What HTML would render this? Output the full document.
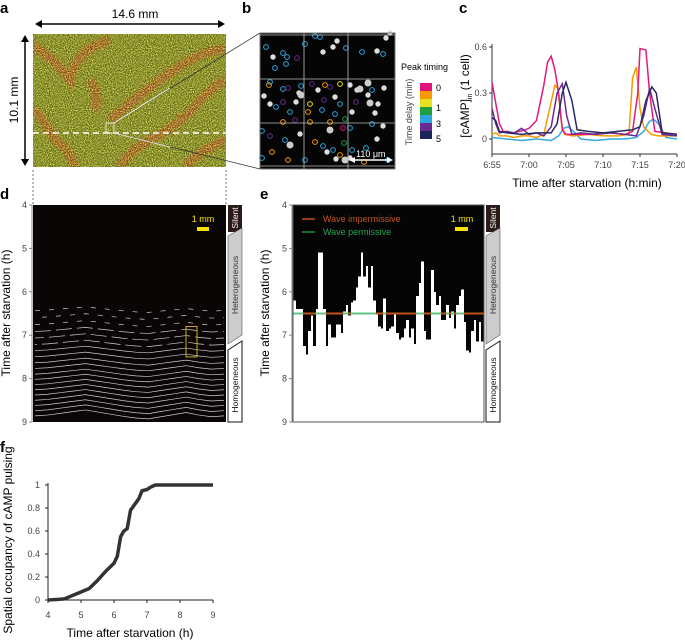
<!DOCTYPE html>
<html><head><meta charset="utf-8">
<style>
body{margin:0;background:#fff;}
svg{display:block;font-family:"Liberation Sans",Arial,sans-serif;}
.pl{font-weight:bold;font-size:15px;}
.tk{font-size:9px;fill:#444;}
.al{font-size:12px;fill:#222;}
</style></head>
<body>
<svg id="fig" width="685" height="642" viewBox="0 0 685 642">
<defs>
<filter id="noise" x="0" y="0" width="100%" height="100%">
<feTurbulence type="fractalNoise" baseFrequency="0.95" numOctaves="2" seed="3"/>
<feColorMatrix type="matrix" values="0 0 0 0 0.9  0 0 0 0 0.85  0 0 0 0 0.15  0 0 0 2.6 -1.0"/>
</filter>
<filter id="blur"><feGaussianBlur stdDeviation="1.5"/></filter>
<clipPath id="clipA"><rect x="33" y="34" width="193" height="133"/></clipPath>
</defs>

<!-- Panel a -->
<text class="pl" x="0" y="13">a</text>
<g>
<line x1="38" y1="24" x2="222" y2="24" stroke="#000" stroke-width="1.5"/>
<polygon points="35,24 42,20 42,28" fill="#000"/><polygon points="225,24 218,20 218,28" fill="#000"/>
<text x="135" y="18" font-size="12" text-anchor="middle">14.6 mm</text>
</g>
<g>
<line x1="25" y1="38" x2="25" y2="163" stroke="#000" stroke-width="1.5"/>
<polygon points="25,35 21,42 29,42" fill="#000"/><polygon points="25,166 21,159 29,159" fill="#000"/>
<text transform="translate(18,100) rotate(-90)" font-size="12" text-anchor="middle">10.1 mm</text>
</g>
<g clip-path="url(#clipA)">
<rect x="33" y="34" width="193" height="133" fill="#5f6a14"/>
<g filter="url(#blur)" stroke="#8c3a12" stroke-width="9" fill="none" opacity="0.85">
<path d="M33,45 Q55,60 70,80 Q75,50 110,40"/>
<path d="M33,110 Q45,120 55,140 Q70,150 75,167"/>
<path d="M110,120 Q140,95 160,80 Q180,65 200,55 Q215,50 226,48"/>
<path d="M120,167 Q130,150 150,140 Q180,125 200,100 Q215,85 226,80"/>
<path d="M95,110 Q100,95 90,80"/>
<path d="M185,167 Q200,150 226,140"/>
</g>
<rect x="33" y="34" width="193" height="133" filter="url(#noise)"/>
<line x1="33" y1="133" x2="226" y2="133" stroke="#fff" stroke-width="1.5" stroke-dasharray="6,4"/>
<rect x="106" y="123" width="8" height="10" fill="none" stroke="#fff" stroke-width="0.8"/>
</g>
<line x1="114" y1="123" x2="260" y2="33" stroke="#333" stroke-width="0.8"/>
<line x1="114" y1="133" x2="260" y2="169" stroke="#333" stroke-width="0.8"/>
<line x1="114" y1="123" x2="170" y2="88" stroke="#fff" stroke-width="0.8"/>
<line x1="114" y1="133" x2="170" y2="147" stroke="#fff" stroke-width="0.8"/>
<line x1="33" y1="170" x2="33" y2="205" stroke="#333" stroke-width="0.7" stroke-dasharray="2,2"/>
<line x1="226" y1="170" x2="226" y2="205" stroke="#333" stroke-width="0.7" stroke-dasharray="2,2"/>

<!-- Panel b -->
<text class="pl" x="242" y="13">b</text>
<g id="panelB">
<rect x="260" y="33" width="135" height="136" fill="#050505"/>
</g>
<text x="401" y="70" font-size="9">Peak timing</text>
<text transform="translate(412,112) rotate(-90)" font-size="9" fill="#444" text-anchor="middle">Time delay (min)</text>
<g id="cbar"></g>

<!-- Panel c -->
<text class="pl" x="459" y="13">c</text>
<g id="panelC"></g>
<text transform="translate(469,96) rotate(-90)" font-size="12" text-anchor="middle">[cAMP]<tspan font-size="7" dy="3">in</tspan><tspan dy="-3"> (1 cell)</tspan></text>
<text x="587" y="187" font-size="12" text-anchor="middle">Time after starvation (h:min)</text>

<!-- Panel d -->
<text class="pl" x="0" y="199">d</text>
<g id="panelD">
<rect x="33" y="205" width="193" height="217" fill="#0a0606"/>
</g>
<text transform="translate(10,313) rotate(-90)" font-size="12" text-anchor="middle">Time after starvation (h)</text>

<!-- Panel e -->
<text class="pl" x="260" y="199">e</text>
<g id="panelE"></g>
<text transform="translate(269,313) rotate(-90)" font-size="12" text-anchor="middle">Time after starvation (h)</text>

<!-- Panel f -->
<text class="pl" x="0" y="452">f</text>
<g id="panelF"></g>
<text transform="translate(12,540) rotate(-90)" font-size="12" text-anchor="middle">Spatial occupancy of cAMP pulsing</text>
<text x="130" y="637" font-size="12" text-anchor="middle">Time after starvation (h)</text>
</svg>

<script>
// ---- Panel c data (minutes after 6:55) ----
const cTicks = ["6:55","7:00","7:05","7:10","7:15","7:20"];
const cYTicks = [0,0.3,0.6];
const tMagenta = [0,1,1.5,3,4.5,5,6,7,7.5,8,8.5,9,9.5,10,13,16,18,19,19.7,20,20.8,21.3,22,25];
const vMagenta = [0.37,0.1,0.05,0.04,0.06,0.07,0.12,0.35,0.5,0.54,0.45,0.3,0.06,0.03,0.03,0.04,0.03,0.05,0.3,0.59,0.58,0.3,0.05,0.03];
const tOrange = [0,0.5,1,2,3,4,5,6,7,7.8,8.5,8.9,9.4,9.8,11,13,15,17,18.5,19,19.5,20,20.5,21.5,22.5,25];
const vOrange = [0.03,0.04,0.02,0.02,0.01,0.02,0.02,0.01,0.03,0.2,0.35,0.33,0.1,0.03,0.02,0.03,0.02,0.02,0.03,0.4,0.47,0.2,0.08,0.03,0.02,0.02];
const tPurple = [0,0.5,1,2,3,4,5,6,7,8,8.8,9.5,10.1,10.8,12,14,16,18,19.5,20.5,21.3,22,23,25];
const vPurple = [0.2,0.1,0.04,0.05,0.04,0.07,0.03,0.04,0.02,0.08,0.3,0.36,0.15,0.03,0.04,0.03,0.04,0.03,0.02,0.15,0.33,0.2,0.03,0.02];
const tNavy = [0,0.5,1,2,4,6,7,8,8.8,9.5,10,10.8,11.5,13,15,17,19,20,20.8,21.6,22.2,23,25];
const vNavy = [0.14,0.12,0.05,0.04,0.03,0.04,0.04,0.04,0.1,0.3,0.37,0.25,0.06,0.05,0.04,0.05,0.06,0.08,0.25,0.34,0.3,0.04,0.03];
const tBlue = [0,2,4,6,8,9,9.7,10.3,11,12,14,16,18,19.5,20.5,21.2,21.8,22.5,23.5,25];
const vBlue = [0.01,0.0,-0.01,0.0,-0.01,0.02,0.07,0.08,0.05,0.0,-0.01,0.0,0.0,0.01,0.05,0.11,0.13,0.1,0.01,0.0];

// ---- Panel d data ----
const dYTicks = [4,5,6,7,8,9];
const waveTimes = [6.42,6.58,6.74,6.9,7.05,7.2,7.34,7.48,7.62,7.75,7.88,8.0,8.12,8.24,8.36,8.48,8.6,8.72,8.84];
const waveProfile = [0.02,0.0,-0.04,-0.08,-0.12,-0.07,-0.02,0.03,0.07,0.09,0.04,-0.01,-0.06,0.0,0.04,0.02]; // hours offset across x

// ---- Panel e data ----
const eBoundary = [6.2,6.4,6.4,6.4,7.25,7.45,6.9,6.55,7.25,6.4,5.1,5.1,6.4,7.25,6.75,7.05,7.05,6.75,6.75,6.95,6.45,6.3,6.55,6.25,6.2,5.9,5.65,5.1,5.65,5.4,5.9,5.4,6.2,6.5,6.8,6.85,6.15,6.9,6.85,6.8,6.5,6.95,7.1,7.05,6.85,6.65,7.05,6.85,7.2,6.1,5.8,5.3,6.9,7.1,7.1,5.5,6.0,6.3,6.1,6.65,6.65,6.3,6.6,6.45,6.85,6.3,6.1,5.95,6.7,7.35,7.4,6.9,6.65,7.15,6.7,7.15];
const eThreshold = 6.5;

// ---- Panel f data ----
const fX = [4,4.3,4.5,4.75,5,5.25,5.5,5.75,6,6.1,6.2,6.3,6.4,6.5,6.6,6.75,6.85,7,7.1,7.25,8,9];
const fY = [0,0.005,0.01,0.04,0.07,0.1,0.17,0.25,0.32,0.38,0.55,0.6,0.62,0.78,0.82,0.88,0.95,0.96,0.98,1,1,1];
const fXTicks = [4,5,6,7,8,9];
const fYTicks = [0,0.2,0.4,0.6,0.8,1];

const NS="http://www.w3.org/2000/svg";
function mk(tag,attrs,parent){const e=document.createElementNS(NS,tag);for(const k in attrs)e.setAttribute(k,attrs[k]);parent.appendChild(e);return e;}

// Panel b cells
(function(){
  const g=document.getElementById('panelB');
  const cols=["#e0157a","#f59a00","#e8e020","#1fa040","#2ba6e0","#6a2b90","#1a2458","#ddd"];
  const cells=[[266,47,4],[275,68,4],[283,53,4],[287,57,4],[297,58,5],[305,44,4],[315,36,4],[320,37,4],[323,52,7],[333,47,7],[337,41,7],[346,48,4],[362,52,4],[377,51,7],[383,54,4],[386,38,7],[390,33,7],[273,57,7],[286,64,4],[269,85,1],[270,82,4],[283,89,4],[288,88,5],[299,93,7],[301,86,4],[312,84,5],[318,90,7],[325,85,1],[330,87,5],[340,84,2],[350,85,7],[368,95,7],[372,90,4],[378,104,7],[356,102,5],[340,104,4],[335,97,7],[324,100,5],[310,104,2],[296,102,7],[283,102,5],[270,104,7],[264,96,7],[276,107,4],[290,112,4],[308,112,1],[322,110,4],[335,114,4],[352,112,7],[375,113,7],[283,122,1],[295,120,5],[310,122,1],[330,122,1],[345,119,3],[343,128,0],[350,128,4],[372,124,4],[383,126,7],[262,131,4],[270,136,5],[285,140,4],[300,134,7],[315,142,1],[323,146,4],[344,143,3],[333,150,4],[352,150,4],[366,148,4],[377,139,7],[272,152,1],[262,158,4],[288,160,1],[305,160,4],[327,152,7],[340,155,1],[350,158,7],[364,162,1],[388,160,4],[357,90,7],[336,159,7],[384,88,7]];
  cells.forEach(c=>{
    const col=cols[c[2]];
    const e=mk('circle',{cx:c[0],cy:c[1],r:c[2]==7?2.2:2.4,fill:c[2]==7?col:'none',stroke:col,'stroke-width':1},g);
    
    
  });
  [[301,95],[360,89],[368,83],[370,103],[290,145],[330,130],[345,160]].forEach(p=>{mk('circle',{cx:p[0],cy:p[1],r:3.5,fill:'#ccc'},g);});
  [304,348].forEach(x=>mk('line',{x1:x,y1:33,x2:x,y2:169,stroke:'#bbb','stroke-width':0.8},g));
  [35,79,123,166].forEach(y=>mk('line',{x1:260,y1:y,x2:395,y2:y,stroke:'#bbb','stroke-width':0.8},g));
  mk('rect',{x:260,y:33,width:135,height:136,fill:'none',stroke:'#777','stroke-width':1},g);
  mk('line',{x1:351,y1:160,x2:391,y2:160,stroke:'#fff','stroke-width':1.5},g);
  mk('polygon',{points:'349,160 355,157 355,163',fill:'#fff'},g);
  mk('polygon',{points:'393,160 387,157 387,163',fill:'#fff'},g);
  const t=mk('text',{x:356,y:157,'font-size':9,fill:'#fff'},g);t.textContent='110 μm';
  
  
  const cb=document.getElementById('cbar');
  const bc=["#e0157a","#f59a00","#e8e020","#1fa040","#2ba6e0","#6a2b90","#1a2458"];
  bc.forEach((c,i)=>mk('rect',{x:420,y:83+i*8,width:12,height:8,fill:c},cb));
  [["0",88],["1",108],["3",124],["5",139]].forEach(l=>{const e=mk('text',{x:436,y:l[1]+3,'font-size':9},cb);e.textContent=l[0];});
})();

// Panel c chart
(function(){
  const g=document.getElementById('panelC');
  const x0=492,x1=677,y0=139,y06=47;
  const X=t=>x0+t/25*(x1-x0);
  const Y=v=>y0-(v/0.6)*(y0-y06);
  mk('line',{x1:x0,y1:44,x2:x0,y2:154,stroke:'#333','stroke-width':1},g);
  mk('line',{x1:x0,y1:154,x2:x1,y2:154,stroke:'#333','stroke-width':1},g);
  cYTicks.forEach(v=>{mk('line',{x1:x0-3,y1:Y(v),x2:x0,y2:Y(v),stroke:'#333'},g);const t=mk('text',{x:x0-5,y:Y(v)+3,'text-anchor':'end',class:'tk'},g);t.textContent=v;});
  cTicks.forEach((l,i)=>{const x=X(i*5);mk('line',{x1:x,y1:154,x2:x,y2:157,stroke:'#333'},g);const t=mk('text',{x:x,y:168,'text-anchor':'middle',class:'tk'},g);t.textContent=l;});
  const series=[[tBlue,vBlue,'#35a8e0','series-cell-blue'],[tOrange,vOrange,'#f59a00','series-cell-orange'],[tMagenta,vMagenta,'#e3197c','series-cell-magenta'],[tPurple,vPurple,'#6a2b90','series-cell-purple'],[tNavy,vNavy,'#252a60','series-cell-navy']];
  series.forEach(s=>{
    const p=mk('polyline',{points:s[0].map((t,i)=>X(t)+','+Y(s[1][i])).join(' '),fill:'none',stroke:s[2],'stroke-width':1.5},g);
    
    
  });
})();

function yAxisH(g,x,top,bot){
  const Y=h=>top+(h-4)/5*(bot-top);
  mk('line',{x1:x,y1:top,x2:x,y2:bot,stroke:'#888','stroke-width':1},g);
  dYTicks.forEach(h=>{mk('line',{x1:x-3,y1:Y(h),x2:x,y2:Y(h),stroke:'#888'},g);const t=mk('text',{x:x-5,y:Y(h)+3,'text-anchor':'end',class:'tk'},g);t.textContent=h;});
  return Y;
}
function sideBar(g,x){
  mk('rect',{x:x,y:205,width:14,height:27,fill:'#2a1a18'},g);
  mk('polygon',{points:`${x},236 ${x+14},228 ${x+14},335 ${x},344`,fill:'#ccc',stroke:'#555','stroke-width':0.6},g);
  mk('polygon',{points:`${x},350 ${x+14},341 ${x+14},422 ${x},422`,fill:'#fff',stroke:'#111','stroke-width':1},g);
  [["Silent",218,'#fff'],["Heterogeneous",285,'#333'],["Homogeneous",385,'#111']].forEach(l=>{const t=mk('text',{transform:`translate(${x+10},${l[1]}) rotate(-90)`,'text-anchor':'middle','font-size':8.5,fill:l[2]},g);t.textContent=l[0];});
}

// Panel d
(function(){
  const g=document.getElementById('panelD');
  const L=33,R=226;
  const Y=yAxisH(g,32,205,422);
  waveTimes.forEach((wt,i)=>{
    const pts=waveProfile.map((o,j)=>{const x=L+2+j/(waveProfile.length-1)*(R-L-4);return x+','+Y(wt+o*(0.6+0.4*i/waveTimes.length));}).join(' ');
    const dash=wt<6.8?'5,9':(wt<7.3?'16,5':'none');
    const p=mk('polyline',{points:pts,fill:'none',stroke:'#ccc','stroke-width':0.7,'stroke-dasharray':dash,'stroke-dashoffset':i*7},g);
    
    
  });
  mk('rect',{x:186,y:Y(6.8),width:11,height:Y(7.5)-Y(6.8),fill:'none',stroke:'#c8b020','stroke-width':1},g);
  mk('rect',{x:197,y:227,width:12,height:4,fill:'#f5e000'},g);
  const t=mk('text',{x:203,y:222,'font-size':9,fill:'#f5e000','text-anchor':'middle'},g);t.textContent='1 mm';
  sideBar(g,228);
})();

// Panel e
(function(){
  const g=document.getElementById('panelE');
  const L=293,R=484;
  mk('rect',{x:L,y:205,width:R-L,height:217,fill:'#fff'},g);
  const Y=yAxisH(g,292,205,422);
  const w=(R-L)/eBoundary.length;
  eBoundary.forEach((b,i)=>{
    const x0=Math.round(L+i*w), x1=Math.round(L+(i+1)*w);
    const r=mk('rect',{x:x0,y:205,width:x1-x0,height:Y(b)-205,fill:'#050505','shape-rendering':'crispEdges'},g);
    
    
  });
  const yt=Y(eThreshold);
  mk('line',{x1:L,y1:yt,x2:R,y2:yt,stroke:'#c0541a','stroke-width':2},g);
  eBoundary.forEach((b,i)=>{ if(b<eThreshold) mk('line',{x1:L+i*w,y1:yt,x2:L+(i+1)*w,y2:yt,stroke:'#5ec88a','stroke-width':2},g);});
  mk('rect',{x:L,y:205,width:R-L,height:217,fill:'none',stroke:'#555','stroke-width':1},g);
  mk('line',{x1:302,y1:219,x2:315,y2:219,stroke:'#c0541a','stroke-width':1.5},g);
  mk('line',{x1:302,y1:232,x2:315,y2:232,stroke:'#1a8a40','stroke-width':1.5},g);
  let t=mk('text',{x:323,y:222,'font-size':9,fill:'#c0541a'},g);t.textContent='Wave impermissive';
  t=mk('text',{x:323,y:235,'font-size':9,fill:'#2aa050'},g);t.textContent='Wave permissive';
  mk('rect',{x:455,y:227,width:13,height:4,fill:'#f5e000'},g);
  t=mk('text',{x:462,y:222,'font-size':9,fill:'#f5e000','text-anchor':'middle'},g);t.textContent='1 mm';
  sideBar(g,486);
})();

// Panel f
(function(){
  const g=document.getElementById('panelF');
  const x0=48,x1=213,y0=600,y1=485;
  const X=v=>x0+(v-4)/5*(x1-x0);
  const Y=v=>y0-v*(y0-y1);
  mk('line',{x1:x0,y1:483,x2:x0,y2:y0,stroke:'#222','stroke-width':1},g);
  mk('line',{x1:x0,y1:y0,x2:x1,y2:y0,stroke:'#222','stroke-width':1},g);
  fYTicks.forEach(v=>{mk('line',{x1:x0-3,y1:Y(v),x2:x0,y2:Y(v),stroke:'#222'},g);const t=mk('text',{x:x0-8,y:Y(v)+3,'text-anchor':'end',class:'tk'},g);t.textContent=v;});
  fXTicks.forEach(v=>{mk('line',{x1:X(v),y1:y0,x2:X(v),y2:y0+3,stroke:'#222'},g);const t=mk('text',{x:X(v),y:618,'text-anchor':'middle',class:'tk'},g);t.textContent=v;});
  const p=mk('polyline',{points:fX.map((v,i)=>X(v)+','+Y(fY[i])).join(' '),fill:'none',stroke:'#333','stroke-width':3.5,'stroke-linejoin':'round'},g);
  
  
})();
</script>
</body></html>
